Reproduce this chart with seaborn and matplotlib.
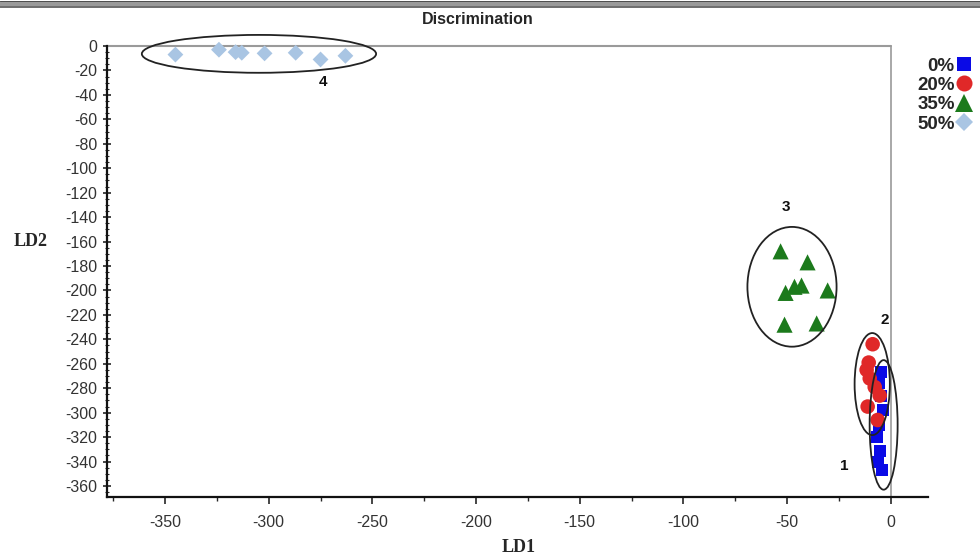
import numpy as np
import pandas as pd
import matplotlib
matplotlib.use("Agg")
import matplotlib.pyplot as plt
import seaborn as sns
from matplotlib.patches import Ellipse
from matplotlib.lines import Line2D

# ---------------- data ----------------
groups = ["0%", "20%", "35%", "50%"]

ld1_0 = [-4.5, -5.5, -4.5, -3.5, -5.5, -6.5, -5.0, -6.0, -4.0]
ld2_0 = [-267, -276, -286, -298, -310, -320, -331, -340, -347]

ld1_20 = [-8.7, -10.6, -11.6, -10.1, -7.7, -5.3, -11.1, -6.3]
ld2_20 = [-244, -259, -265, -272, -279, -286, -295, -306]

ld1_35 = [-53.1, -40.1, -50.7, -46.4, -43.0, -30.4, -51.2, -35.7]
ld2_35 = [-168, -177, -202, -197, -196, -200, -228, -227]

ld1_50 = [-345, -324, -316, -313, -302, -287, -275, -263]
ld2_50 = [-7, -3, -5, -5.5, -6, -5.5, -11, -8]

# cluster ellipses: label, centre LD1, centre LD2, width, height
ell_labels = ["1", "2", "3", "4"]
ell_cx = [-3.4, -8.9, -47.6, -304.7]
ell_cy = [-310, -276.6, -197, -6.4]
ell_w = [13.5, 17.0, 43.0, 113.0]
ell_h = [106.0, 83.5, 98.0, 31.0]
lab_x = [-22.2, -2.9, -50.4, -274]
lab_y = [-343.7, -224, -131.5, -29.5]

title = "Discrimination"
xlabel = "LD1"
ylabel = "LD2"
xticks = [-350, -300, -250, -200, -150, -100, -50, 0]
yticks = list(range(0, -361, -20))

# ---------------- frame ----------------
df = pd.DataFrame({
    "LD1": ld1_0 + ld1_20 + ld1_35 + ld1_50,
    "LD2": ld2_0 + ld2_20 + ld2_35 + ld2_50,
    "group": [groups[0]] * len(ld1_0) + [groups[1]] * len(ld1_20)
             + [groups[2]] * len(ld1_35) + [groups[3]] * len(ld1_50),
})

sns.set_style("white")
plt.rcParams["font.family"] = ["Liberation Sans", "DejaVu Sans"]

W, H = 980, 556
fig = plt.figure(figsize=(W / 100, H / 100), dpi=100)
ax_left, ax_right = 107 / W, 928 / W
ax_bottom = 1 - 497 / H
ax_top = 1 - 27.7 / H
ax = fig.add_axes([ax_left, ax_bottom, ax_right - ax_left, ax_top - ax_bottom])

palette = {"0%": "#0a0ae6", "20%": "#e02828", "35%": "#1c7a1c", "50%": "#a9c5e3"}
markers = {"0%": "s", "20%": "o", "35%": "^", "50%": "D"}
sizes_map = {"0%": 75, "20%": 110, "35%": 135, "50%": 65}

sns.scatterplot(data=df, x="LD1", y="LD2", hue="group", style="group",
                palette=palette, markers=markers, hue_order=groups,
                style_order=groups, size="group", sizes=sizes_map,
                size_order=groups, linewidth=0, ax=ax, zorder=3, legend=True)

ax.set_xlim(-378, 18)
ax.set_ylim(-369, 15)

# zero lines
ax.axhline(0, color="#9a9a9a", lw=1.5, zorder=1, xmax=(0 + 378) / 396)
ax.plot([0, 0], [0, -369], color="#9a9a9a", lw=1.2, zorder=1)

# ellipses and labels
for lb, cx, cy, w, h, tx, ty in zip(ell_labels, ell_cx, ell_cy, ell_w, ell_h, lab_x, lab_y):
    ax.add_patch(Ellipse((cx, cy), w, h, fill=False, edgecolor="#222222",
                         lw=1.3, zorder=4, clip_on=False))
    ax.text(tx, ty, lb, ha="center", va="center", fontsize=11,
            fontweight="bold", color="#111111", family=["Liberation Sans", "DejaVu Sans"])

# spines
for s in ["top", "right"]:
    ax.spines[s].set_visible(False)
ax.spines["left"].set_bounds(-369, 0)
ax.spines["left"].set_linewidth(1.6)
ax.spines["bottom"].set_linewidth(1.6)
ax.spines["left"].set_color("#111111")
ax.spines["bottom"].set_color("#111111")

ax.set_xticks(xticks)
ax.set_xticklabels([str(v) for v in xticks])
ax.set_yticks(yticks)
ax.set_yticklabels([str(v) for v in yticks])
ax.set_xticks(np.arange(-375, 1, 25), minor=True)
ax.set_yticks(np.arange(-365, 1, 5), minor=True)
ax.tick_params(axis="x", which="major", direction="out", length=5, width=1.2,
               labelsize=11.5, labelcolor="#333333", pad=8, bottom=True)
ax.tick_params(axis="x", which="minor", direction="out", length=3, width=1,
               bottom=True)
ax.tick_params(axis="y", which="major", direction="inout", length=6, width=1.2,
               labelsize=11.5, labelcolor="#333333", pad=4, left=True)
ax.tick_params(axis="y", which="minor", direction="inout", length=3, width=0.8,
               left=True)
ax.set_xlabel("")
ax.set_ylabel("")

# legend (text first, marker after)
handles, labels = ax.get_legend_handles_labels()
ax.legend_.remove()
hl = [(h, l) for h, l in zip(handles, labels) if l in groups]
leg = fig.legend([h for h, _ in hl], [l for _, l in hl], markerfirst=False,
                 frameon=False, loc="upper right", bbox_to_anchor=(1.0, 0.910),
                 prop={"family": ["Liberation Sans", "DejaVu Sans"], "weight": "bold", "size": 13.5},
                 labelspacing=0.12, handlelength=0.9, handletextpad=0.05,
                 borderaxespad=0.0, markerscale=1.1)

# titles / labels
fig.text(478 / W, 1 - 20 / H, title, ha="center", va="center", fontsize=11.5,
         fontweight="bold", family=["Liberation Sans Narrow", "Liberation Sans", "DejaVu Sans"])
fig.text(519 / W, 1 - 547 / H, xlabel, ha="center", va="center", fontsize=13,
         fontweight="bold", family=["Liberation Serif", "DejaVu Serif"])
fig.text(31 / W, 1 - 242 / H, ylabel, ha="center", va="center", fontsize=13,
         fontweight="bold", family=["Liberation Serif", "DejaVu Serif"])

# top border of the image
fig.add_artist(Line2D([0, 1], [1 - 1.5 / H, 1 - 1.5 / H], color="#333333", lw=2,
                      transform=fig.transFigure))
fig.add_artist(Line2D([0, 1], [1 - 4 / H, 1 - 4 / H], color="#9a9a9a", lw=3,
                      transform=fig.transFigure))
fig.add_artist(Line2D([0, 1], [1 - 7 / H, 1 - 7 / H], color="#555555", lw=1.2,
                      transform=fig.transFigure))

fig.savefig("out.png", dpi=100)
